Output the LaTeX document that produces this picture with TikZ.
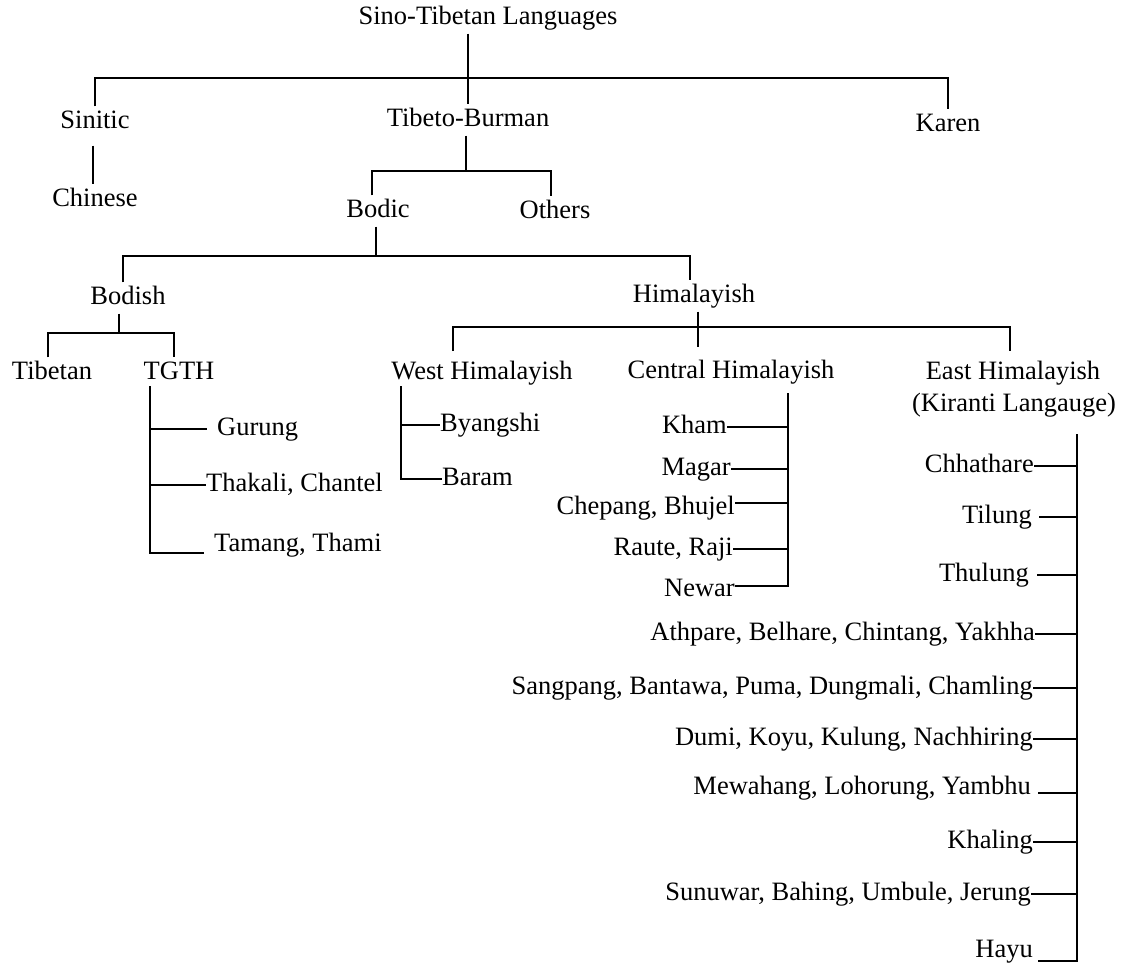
\documentclass[tikz,border=0pt]{standalone}
\usepackage{fontspec}
\setmainfont{Liberation Serif}
\usepackage{tikz}

\begin{document}
\begin{tikzpicture}
    [
      x=1pt, y=-1pt,
      Lang/.style={rectangle, draw=none, inner sep=4pt, font=\fontsize{26.5}{30}\selectfont, text height=18pt, text depth=5pt},
      Leaf/.style={Lang, inner sep=0pt},
      Line/.style={draw=black, line width=1.5pt},
    ]
    \useasboundingbox (0,0) rectangle (1128,963);

    % Nodes
    \node[Lang] (stl) at (488, 18) {Sino-Tibetan Languages};
    \node[Lang] (sinitic) at (95, 122) {Sinitic};
    \node[Lang] (tb) at (468, 120) {Tibeto-Burman};
    \node[Lang] (karen) at (948, 125) {Karen};
    \node[Lang] (chinese) at (95, 200) {Chinese};
    \node[Lang] (bodic) at (378, 211) {Bodic};
    \node[Lang] (others) at (555, 212) {Others};
    \node[Lang] (bodish) at (128, 298) {Bodish};
    \node[Lang] (himal) at (694, 296) {Himalayish};
    \node[Lang] (tibetan) at (52, 373) {Tibetan};
    \node[Lang] (tgth) at (179, 373) {TGTH};
    \node[Lang] (west) at (482, 373) {West Himalayish};
    \node[Lang] (central) at (731, 372) {Central Himalayish};
    \node[Lang] (east) at (1013, 373) {East Himalayish};
    \node[Lang] (kiranti) at (1014, 405) {(Kiranti Langauge)};

    \node[Leaf, anchor=west] (gurung) at (217, 429) {Gurung};
    \node[Leaf, anchor=west] (thakali) at (206, 485) {Thakali, Chantel};
    \node[Leaf, anchor=west] (tamang) at (214, 545) {Tamang, Thami};

    \node[Leaf, anchor=west] (byangshi) at (440, 425) {Byangshi};
    \node[Leaf, anchor=west] (baram) at (442, 479) {Baram};

    \node[Leaf, anchor=east] (kham) at (727, 427) {Kham};
    \node[Leaf, anchor=east] (magar) at (731, 469) {Magar};
    \node[Leaf, anchor=east] (chepang) at (735, 508) {Chepang, Bhujel};
    \node[Leaf, anchor=east] (raute) at (733, 549) {Raute, Raji};
    \node[Leaf, anchor=east] (newar) at (735, 590) {Newar};

    \node[Leaf, anchor=east] (chhathare) at (1034, 466) {Chhathare};
    \node[Leaf, anchor=east] (tilung) at (1032, 517) {Tilung};
    \node[Leaf, anchor=east] (thulung) at (1029, 575) {Thulung};
    \node[Leaf, anchor=east] (athpare) at (1035, 634) {Athpare, Belhare, Chintang, Yakhha};
    \node[Leaf, anchor=east] (sangpang) at (1033, 688) {Sangpang, Bantawa, Puma, Dungmali, Chamling};
    \node[Leaf, anchor=east] (dumi) at (1033, 739) {Dumi, Koyu, Kulung, Nachhiring};
    \node[Leaf, anchor=east] (mewahang) at (1031, 788) {Mewahang, Lohorung, Yambhu};
    \node[Leaf, anchor=east] (khaling) at (1033, 842) {Khaling};
    \node[Leaf, anchor=east] (sunuwar) at (1031, 894) {Sunuwar, Bahing, Umbule, Jerung};
    \node[Leaf, anchor=east] (hayu) at (1033, 951) {Hayu};

    % Bars
    \coordinate (bar1) at (469, 78);
    \coordinate (bar2) at (466, 171);
    \coordinate (bar3) at (376, 256);
    \coordinate (bar4) at (119, 333);
    \coordinate (bar5) at (698, 327);
    \coordinate (cdrop) at (698, 347);
    \coordinate (wdrop) at (453, 351);
    \coordinate (edrop) at (1010, 351);
    \coordinate (tg0) at (150, 386);
    \coordinate (wh0) at (401, 386);
    \coordinate (ch0) at (788, 393);
    \coordinate (ea0) at (1077, 434);

    % Lines
    \path[Line] (stl.south -| tb) -- (tb.north);
    \path[Line] (sinitic.north) |- (bar1) -| (karen.north);
    \path[Line] ([xshift=-2pt, yshift=-8pt]sinitic.south) -- ([xshift=-2pt]chinese.north);

    \path[Line] (tb.south -| bar2) -- (bar2);
    \path[Line] ([xshift=-6pt]bodic.north) |- (bar2) -| ([xshift=-4pt]others.north);

    \path[Line] (bodic.south -| bar3) -- (bar3);
    \path[Line] ([xshift=-5pt]bodish.north) |- (bar3) -| ([xshift=-4pt]himal.north);

    \path[Line] (bodish.south -| bar4) -- (bar4);
    \path[Line] ([xshift=-4pt]tibetan.north) |- (bar4) -| ([xshift=-5pt]tgth.north);

    \path[Line] (himal.south -| bar5) -- (cdrop);
    \path[Line] (wdrop) |- (bar5) -| (edrop);

    \path[Line] (tg0) |- ([xshift=-10pt, yshift=-8pt]tamang.west);
    \path[Line] (gurung.west -| tg0) -- ([xshift=-10pt]gurung.west);
    \path[Line] (thakali.west -| tg0) -- (thakali.west);

    \path[Line] (wh0) |- (baram.west);
    \path[Line] (byangshi.west -| wh0) -- (byangshi.west);

    \path[Line] (ch0) |- ([yshift=4pt]newar.east);
    \path[Line] (kham.east) -- (kham.east -| ch0);
    \path[Line] (magar.east) -- (magar.east -| ch0);
    \path[Line] ([yshift=5pt]chepang.east) -- ([yshift=5pt]chepang.east -| ch0);
    \path[Line] (raute.east) -- (raute.east -| ch0);

    \path[Line] (ea0) |- ([xshift=5pt, yshift=-10pt]hayu.east);
    \path[Line] (chhathare.east) -- (chhathare.east -| ea0);
    \path[Line] ([xshift=7pt]tilung.east) -- (tilung.east -| ea0);
    \path[Line] ([xshift=8pt]thulung.east) -- (thulung.east -| ea0);
    \path[Line] (athpare.east) -- (athpare.east -| ea0);
    \path[Line] (sangpang.east) -- (sangpang.east -| ea0);
    \path[Line] (dumi.east) -- (dumi.east -| ea0);
    \path[Line] ([xshift=7pt, yshift=-5pt]mewahang.east) -- ([yshift=-5pt]mewahang.east -| ea0);
    \path[Line] (khaling.east) -- (khaling.east -| ea0);
    \path[Line] (sunuwar.east) -- (sunuwar.east -| ea0);

  \end{tikzpicture}
\end{document}
